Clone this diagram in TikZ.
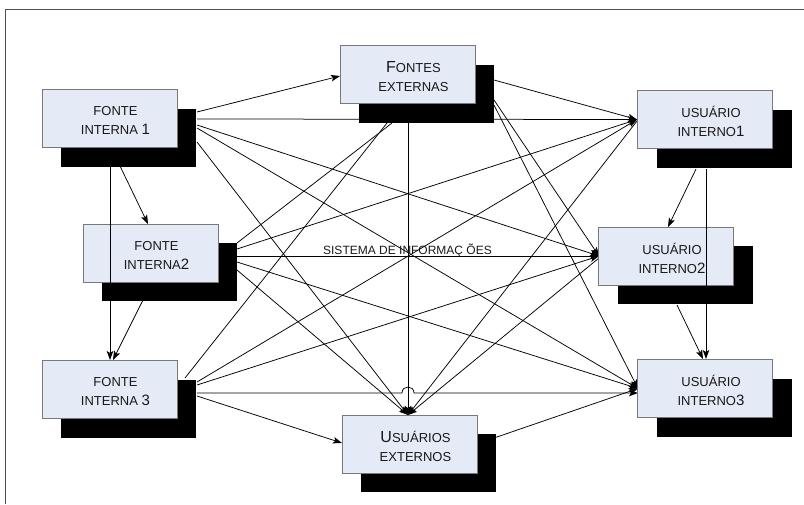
\documentclass[tikz,border=0pt]{standalone}
\usepackage{fontspec}
\setmainfont{Liberation Sans}
\usetikzlibrary{shadows,arrows.meta}
\definecolor{boxfill}{RGB}{228,234,246}
\definecolor{boxline}{RGB}{120,120,120}
\definecolor{txtc}{RGB}{25,25,25}
\definecolor{framec}{RGB}{80,80,80}
\pgfdeclarelayer{bg}
\pgfsetlayers{bg,main}
\newcommand\mybigdigit[1]{{\fontsize{15}{19}\selectfont #1}}
\newcommand\mybigletter[1]{{\fontsize{16}{19}\selectfont #1}}
\begin{document}
\begin{tikzpicture}[x=1pt,y=-1pt,
  box/.style={draw=boxline, line width=0.7pt, fill=boxfill, minimum width=135pt, minimum height=58pt,
    inner sep=0pt, outer sep=0pt,
    drop shadow={shadow xshift=19pt, shadow yshift=-19pt, fill=black, opacity=1, draw=none}},
  btxt/.style={align=center, text=txtc, font=\fontsize{13}{19}\selectfont, xshift=6pt, yshift=-2pt, inner sep=0pt},
  conn/.style={line width=0.75pt, draw=black},
  arr/.style={conn, -{Stealth[length=9pt,width=6.5pt,inset=2pt]}},
  lbl/.style={font=\fontsize{12}{14}\selectfont, text=txtc, inner sep=0pt, anchor=base},
]
\useasboundingbox (0,0) rectangle (804,504);
\draw[framec, line width=0.9pt] (5,504) -- (5,9) -- (804,9);

% boxes
\node[box, label={[btxt]center:{FONTE\\INTERNA \mybigdigit{1}}}] (fi1) at (109.5,118.5) {};
\node[box, label={[btxt]center:{FONTE\\INTERNA\mybigdigit{2}}}] (fi2) at (150.5,253) {};
\node[box, label={[btxt]center:{FONTE\\INTERNA \mybigdigit{3}}}] (fi3) at (109.5,389.5) {};
\node[box, label={[btxt]center:{\mybigletter{F}ONTES\\EXTERNAS}}] (fe) at (407.5,74.5) {};
\node[box, label={[btxt]center:{\mybigletter{U}SUÁRIOS\\EXTERNOS}}] (ue) at (409.5,444) {};
\node[box, label={[btxt]center:{USUÁRIO\\INTERNO\mybigdigit{1}}}] (ui1) at (705,119.5) {};
\node[box, label={[btxt]center:{USUÁRIO\\INTERNO\mybigdigit{2}}}] (ui2) at (666,256) {};
\node[box, label={[btxt]center:{USUÁRIO\\INTERNO\mybigdigit{3}}}] (ui3) at (705,388.5) {};

\begin{pgfonlayer}{bg}
% from FONTE INTERNA 1
\draw[arr] ([shift={(87.5,-6.5)}]fi1.center) -- ([shift={(-67.5,1.5)}]fe.center);
\draw[arr] ([shift={(87.5,0.5)}]fi1.center) -- ([shift={(-68,0)}]ui1.center);
\draw[arr] ([shift={(87.5,6.5)}]fi1.center) -- ([shift={(-67,0)}]ui2.center);
\draw[arr] ([shift={(87.5,9.5)}]fi1.center) -- ([shift={(-67,0)}]ui3.center);
\draw[arr] ([shift={(87.5,23.5)}]fi1.center) -- ([shift={(-1.5,-29)}]ue.center);
\draw[arr] ([shift={(10.5,47.5)}]fi1.center) -- ([shift={(-2.5,-29)}]fi2.center);
% from FONTES EXTERNAS
\draw[arr] ([shift={(86.5,5.5)}]fe.center) -- ([shift={(-68,0)}]ui1.center);
\draw[arr] ([shift={(86.5,25.5)}]fe.center) -- ([shift={(-67,0)}]ui2.center);
\draw[arr] ([shift={(86.5,30.5)}]fe.center) -- ([shift={(-67,0)}]ui3.center);
\draw[arr] ([shift={(0.5,48.5)}]fe.center) -- ([shift={(-1.5,-29)}]ue.center);
% from FONTE INTERNA 2
\draw[conn] ([shift={(86.5,-10)}]fi2.center) -- ([shift={(-15.5,48.5)}]fe.center);
\draw[arr] ([shift={(86.5,-4)}]fi2.center) -- ([shift={(-68,0)}]ui1.center);
\draw[arr] ([shift={(86.5,3)}]fi2.center) -- node[lbl, pos=0.471, yshift=2pt] (si) {SISTEMA DE INFORMAÇ ÕES} ([shift={(-67,0)}]ui2.center);
\draw[arr] ([shift={(86.5,9)}]fi2.center) -- ([shift={(-67,0)}]ui3.center);
\draw[arr] ([shift={(86.5,17)}]fi2.center) -- ([shift={(-1.5,-29)}]ue.center);
\draw[arr] ([shift={(-7.5,47)}]fi2.center) -- ([shift={(3.5,-29.5)}]fi3.center);
% from FONTE INTERNA 3
\draw[conn] ([shift={(75.5,-11.5)}]fi3.center) -- ([shift={(-20.5,48.5)}]fe.center);
\draw[arr] ([shift={(87.5,-7.5)}]fi3.center) -- ([shift={(-68,0)}]ui1.center);
\draw[arr] ([shift={(87.5,-4.5)}]fi3.center) -- ([shift={(-67,0)}]ui2.center);
\draw[arr] ([shift={(87.5,3.5)}]fi3.center) -- (402,393) .. controls (402,385) and (414,385) .. (414,393) -- ([shift={(-67,4.5)}]ui3.center);
\draw[arr] ([shift={(87.5,6.5)}]fi3.center) -- ([shift={(-67.5,-1)}]ue.center);
% users
\draw[arr] ([shift={(84.5,-6)}]ue.center) -- ([shift={(-67,0)}]ui3.center);
\draw[arr] ([shift={(-68,1.5)}]ui1.center) -- ([shift={(-1.5,-29)}]ue.center);
\draw[arr] ([shift={(-67,2)}]ui2.center) -- ([shift={(-1.5,-29)}]ue.center);
\draw[arr] ([shift={(-9,49.5)}]ui1.center) -- ([shift={(2,-29)}]ui2.center);
\draw[arr] ([shift={(11,49)}]ui2.center) -- ([shift={(-2,-29.5)}]ui3.center);
\end{pgfonlayer}

% vertical connectors drawn over the middle boxes
\draw[arr] ([shift={(0.5,47.5)}]fi1.center) -- ([shift={(0.5,-29.5)}]fi3.center);
\draw[arr] ([shift={(1,49.5)}]ui1.center) -- ([shift={(1,-29.5)}]ui3.center);
\end{tikzpicture}
\end{document}
